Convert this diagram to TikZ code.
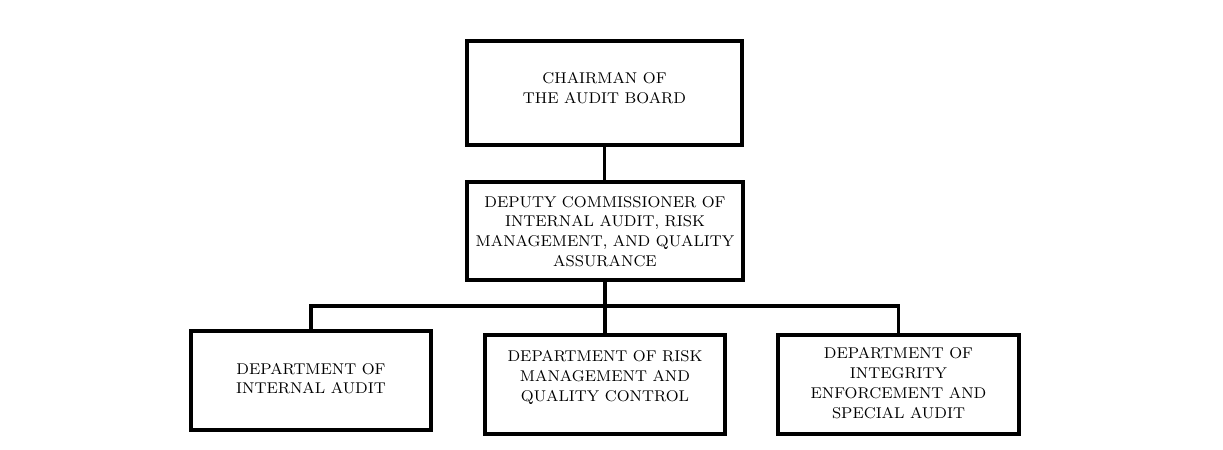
\documentclass[tikz,border=0pt]{standalone}
\begin{document}
\begin{tikzpicture}[x=0.5pt,y=-0.5pt,
  box/.style={draw,line width=1.6pt,rectangle,inner sep=0pt},
  txt/.style={align=center,font=\fontsize{7.8}{9.9}\selectfont,inner sep=0pt},
  link/.style={line width=1.6pt}]
\useasboundingbox (0,0) rectangle (1223,450);
\node[box,minimum width=137.5pt,minimum height=52pt] (chair) at (604.5,93) {};
\node[txt] (chairT) at (604.5,88) {CHAIRMAN OF\\THE AUDIT BOARD};
\node[box,minimum width=138pt,minimum height=49pt] (dep) at (605,231) {};
\node[txt] (depT) at (605,231.5) {DEPUTY COMMISSIONER OF\\INTERNAL AUDIT, RISK\\MANAGEMENT, AND QUALITY\\ASSURANCE};
\node[box,minimum width=120pt,minimum height=49.5pt] (ia) at (311,380.5) {};
\node[txt] (iaT) at (311,378.5) {DEPARTMENT OF\\INTERNAL AUDIT};
\node[box,minimum width=120pt,minimum height=49.5pt] (rm) at (605,384.5) {};
\node[txt] (rmT) at (605,377.5) {DEPARTMENT OF RISK\\MANAGEMENT AND\\QUALITY CONTROL};
\node[box,minimum width=120.5pt,minimum height=49.5pt] (ie) at (898.5,384.5) {};
\node[txt] (ieT) at (898.5,383) {DEPARTMENT OF\\INTEGRITY\\ENFORCEMENT AND\\SPECIAL AUDIT};
\coordinate (bus) at (605,306);
\draw[link] (chair.south) -- (chair.south |- dep.north);
\draw[link] (dep.south) -- (bus);
\draw[link,line join=miter] (ia.north) |- (bus) -| (ie.north);
\draw[link] (bus) -- (rm.north);
\end{tikzpicture}
\end{document}
